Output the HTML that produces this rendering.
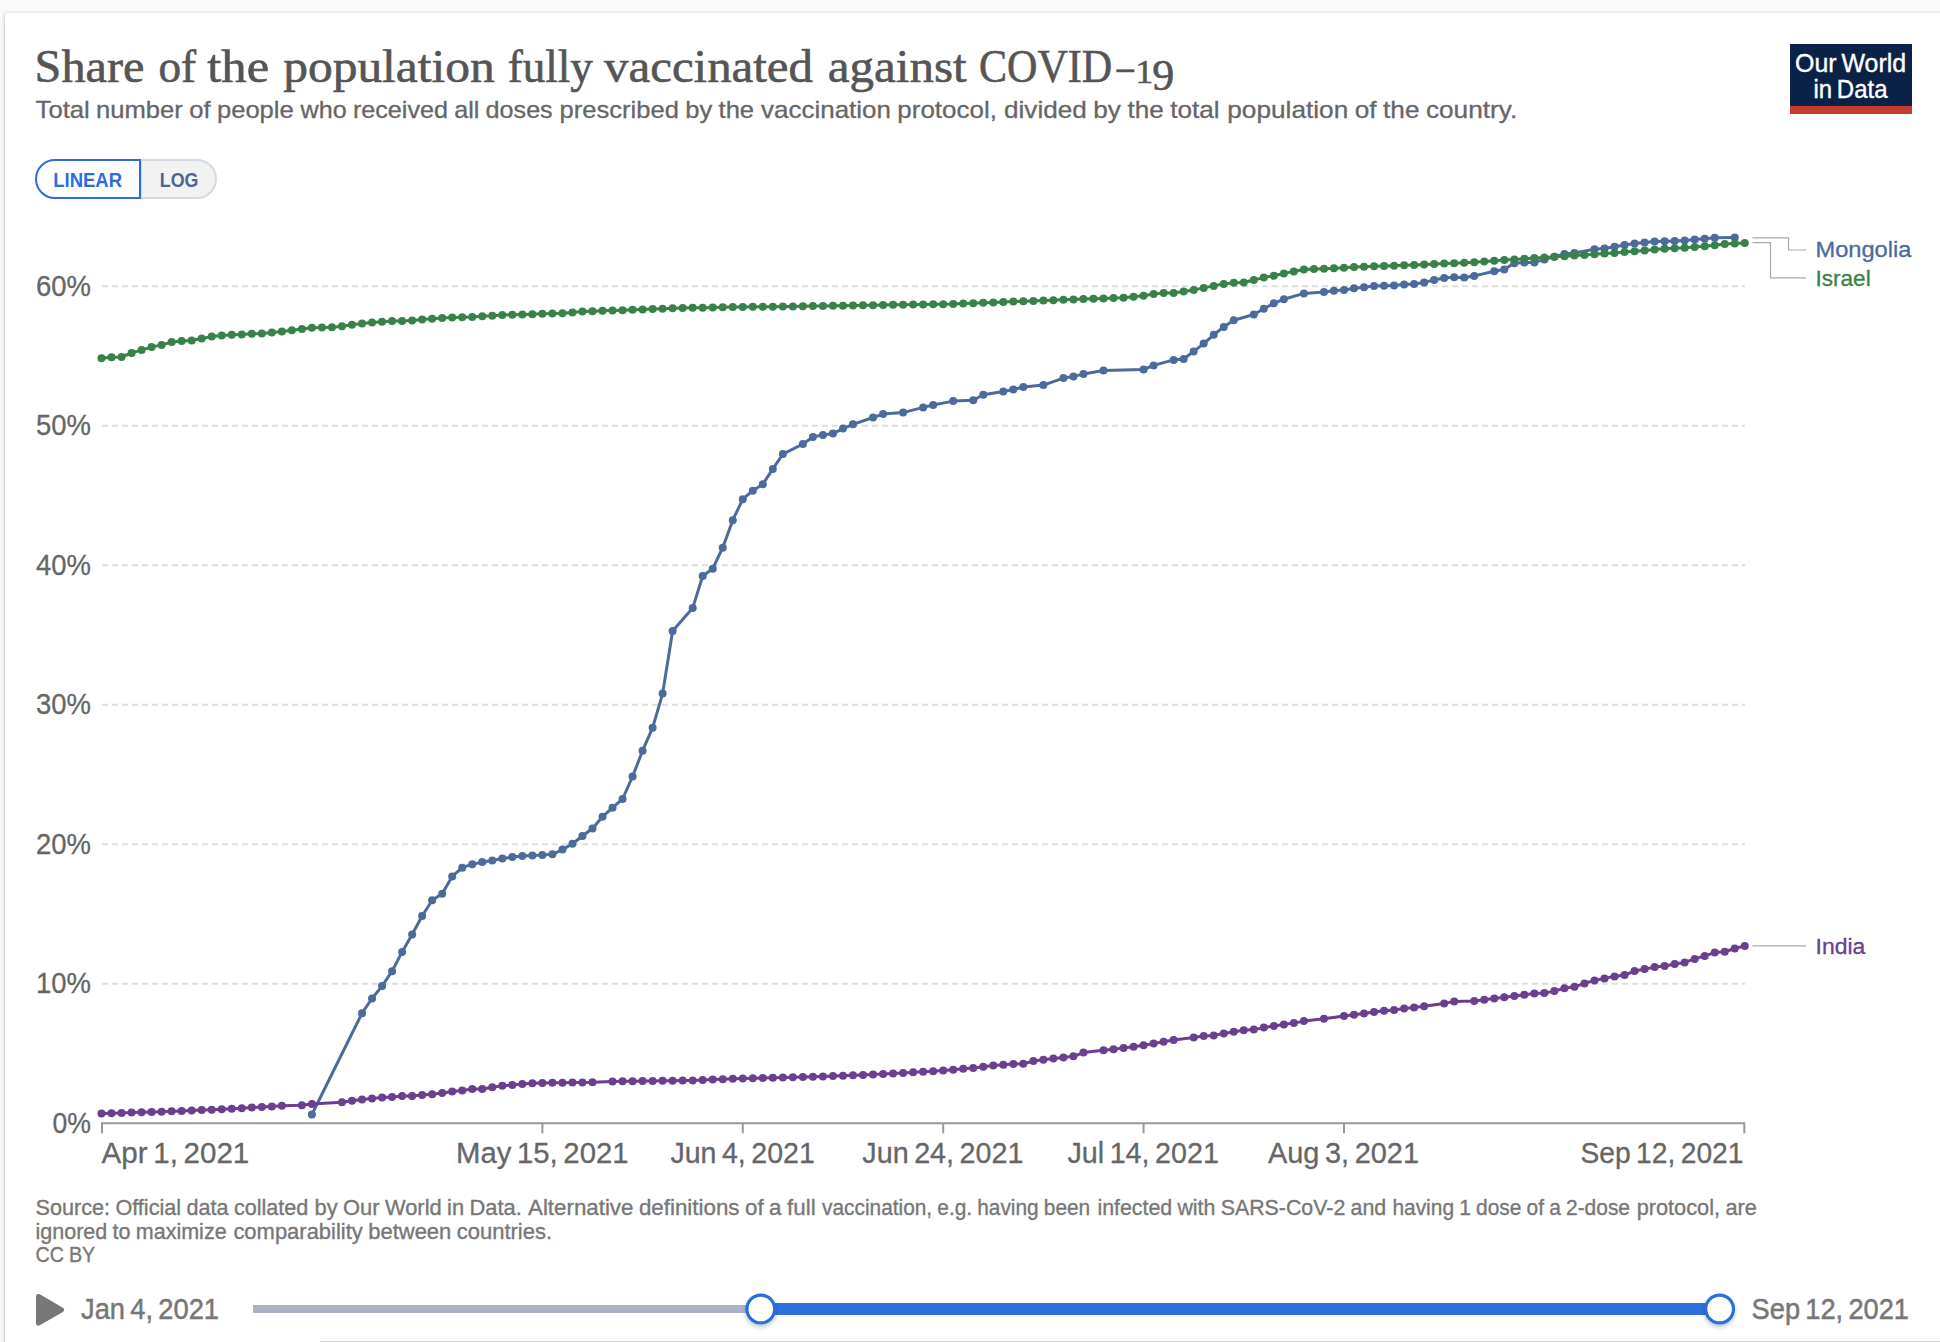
<!DOCTYPE html>
<html><head><meta charset="utf-8"><title>Share of the population fully vaccinated against COVID-19</title>
<style>
html,body{margin:0;padding:0;}
body{width:1940px;height:1342px;overflow:hidden;background:#fafafa;position:relative;font-family:"Liberation Sans",sans-serif;}
#card{position:absolute;left:5px;top:13px;width:1945px;height:1340px;background:#fff;border-radius:3px;box-shadow:0 1px 4px rgba(0,0,0,0.3);}
svg{position:absolute;left:0;top:0;}
</style></head><body>
<div id="card"></div>
<svg width="1940" height="1342" viewBox="0 0 1940 1342">
<line x1="102" x2="1745" y1="983.7" y2="983.7" stroke="#ddd" stroke-width="2" stroke-dasharray="6,4"/>
<line x1="102" x2="1745" y1="844.2" y2="844.2" stroke="#ddd" stroke-width="2" stroke-dasharray="6,4"/>
<line x1="102" x2="1745" y1="704.7" y2="704.7" stroke="#ddd" stroke-width="2" stroke-dasharray="6,4"/>
<line x1="102" x2="1745" y1="565.2" y2="565.2" stroke="#ddd" stroke-width="2" stroke-dasharray="6,4"/>
<line x1="102" x2="1745" y1="425.7" y2="425.7" stroke="#ddd" stroke-width="2" stroke-dasharray="6,4"/>
<line x1="102" x2="1745" y1="286.2" y2="286.2" stroke="#ddd" stroke-width="2" stroke-dasharray="6,4"/>
<text x="91" y="1132.6" text-anchor="end" font-size="29" fill="#666" stroke="#666" stroke-width="0.3" textLength="38.5" lengthAdjust="spacingAndGlyphs" font-family="Liberation Sans, sans-serif" style="word-spacing:-0.085em">0%</text>
<text x="91" y="993.1" text-anchor="end" font-size="29" fill="#666" stroke="#666" stroke-width="0.3" textLength="55" lengthAdjust="spacingAndGlyphs" font-family="Liberation Sans, sans-serif" style="word-spacing:-0.085em">10%</text>
<text x="91" y="853.6" text-anchor="end" font-size="29" fill="#666" stroke="#666" stroke-width="0.3" textLength="55" lengthAdjust="spacingAndGlyphs" font-family="Liberation Sans, sans-serif" style="word-spacing:-0.085em">20%</text>
<text x="91" y="714.1" text-anchor="end" font-size="29" fill="#666" stroke="#666" stroke-width="0.3" textLength="55" lengthAdjust="spacingAndGlyphs" font-family="Liberation Sans, sans-serif" style="word-spacing:-0.085em">30%</text>
<text x="91" y="574.6" text-anchor="end" font-size="29" fill="#666" stroke="#666" stroke-width="0.3" textLength="55" lengthAdjust="spacingAndGlyphs" font-family="Liberation Sans, sans-serif" style="word-spacing:-0.085em">40%</text>
<text x="91" y="435.1" text-anchor="end" font-size="29" fill="#666" stroke="#666" stroke-width="0.3" textLength="55" lengthAdjust="spacingAndGlyphs" font-family="Liberation Sans, sans-serif" style="word-spacing:-0.085em">50%</text>
<text x="91" y="295.6" text-anchor="end" font-size="29" fill="#666" stroke="#666" stroke-width="0.3" textLength="55" lengthAdjust="spacingAndGlyphs" font-family="Liberation Sans, sans-serif" style="word-spacing:-0.085em">60%</text>
<path d="M102,1133.3 V1123.3 H1744.3 V1133.3" fill="none" stroke="#999" stroke-width="2"/>
<line x1="542.38" x2="542.38" y1="1123.3" y2="1133.3" stroke="#999" stroke-width="2"/>
<line x1="742.78" x2="742.78" y1="1123.3" y2="1133.3" stroke="#999" stroke-width="2"/>
<line x1="943.18" x2="943.18" y1="1123.3" y2="1133.3" stroke="#999" stroke-width="2"/>
<line x1="1143.58" x2="1143.58" y1="1123.3" y2="1133.3" stroke="#999" stroke-width="2"/>
<line x1="1343.98" x2="1343.98" y1="1123.3" y2="1133.3" stroke="#999" stroke-width="2"/>
<text x="101.5" y="1162.5" text-anchor="start" font-size="29" fill="#666" stroke="#666" stroke-width="0.3" textLength="147.8" lengthAdjust="spacingAndGlyphs" font-family="Liberation Sans, sans-serif" style="word-spacing:-0.085em">Apr 1, 2021</text>
<text x="542.3" y="1162.5" text-anchor="middle" font-size="29" fill="#666" stroke="#666" stroke-width="0.3" textLength="172.4" lengthAdjust="spacingAndGlyphs" font-family="Liberation Sans, sans-serif" style="word-spacing:-0.085em">May 15, 2021</text>
<text x="742.6" y="1162.5" text-anchor="middle" font-size="29" fill="#666" stroke="#666" stroke-width="0.3" textLength="144.4" lengthAdjust="spacingAndGlyphs" font-family="Liberation Sans, sans-serif" style="word-spacing:-0.085em">Jun 4, 2021</text>
<text x="942.9" y="1162.5" text-anchor="middle" font-size="29" fill="#666" stroke="#666" stroke-width="0.3" textLength="161.1" lengthAdjust="spacingAndGlyphs" font-family="Liberation Sans, sans-serif" style="word-spacing:-0.085em">Jun 24, 2021</text>
<text x="1143.2" y="1162.5" text-anchor="middle" font-size="29" fill="#666" stroke="#666" stroke-width="0.3" textLength="151.6" lengthAdjust="spacingAndGlyphs" font-family="Liberation Sans, sans-serif" style="word-spacing:-0.085em">Jul 14, 2021</text>
<text x="1343.5" y="1162.5" text-anchor="middle" font-size="29" fill="#666" stroke="#666" stroke-width="0.3" textLength="151" lengthAdjust="spacingAndGlyphs" font-family="Liberation Sans, sans-serif" style="word-spacing:-0.085em">Aug 3, 2021</text>
<text x="1743.5" y="1162.5" text-anchor="end" font-size="29" fill="#666" stroke="#666" stroke-width="0.3" textLength="163.1" lengthAdjust="spacingAndGlyphs" font-family="Liberation Sans, sans-serif" style="word-spacing:-0.085em">Sep 12, 2021</text>
<g fill="#4c6a9c" stroke="none"><path d="M311.92,1114.5 L362.02,1013.2 L372.04,998.5 L382.06,986.1 L392.08,971.2 L402.1,951.9 L412.12,934.4 L422.14,916.0 L432.16,900.2 L442.18,893.7 L452.2,876.4 L462.22,867.7 L472.24,864.2 L482.26,862.1 L492.28,860.4 L502.3,858.6 L512.32,857.1 L522.34,856.0 L532.36,855.4 L542.38,854.9 L552.4,854.3 L562.42,849.6 L572.44,843.7 L582.46,836.0 L592.48,828.5 L602.5,816.8 L612.52,807.7 L622.54,799.0 L632.56,776.5 L642.58,750.7 L652.6,727.8 L662.62,693.6 L672.64,631.0 L692.68,608.1 L702.7,576.0 L712.72,568.7 L722.74,547.7 L732.76,520.2 L742.78,499.2 L752.8,490.7 L762.82,484.2 L772.84,468.9 L782.86,454.1 L802.9,444.0 L812.92,437.0 L822.94,434.9 L832.96,433.6 L842.98,428.6 L853.0,424.3 L873.04,417.5 L883.06,414.1 L903.1,412.6 L923.14,407.4 L933.16,405.0 L953.2,401.1 L973.24,400.2 L983.26,394.8 L1003.3,391.4 L1013.32,389.6 L1023.34,387.0 L1043.38,385.1 L1063.42,378.1 L1073.44,376.4 L1083.46,374.1 L1103.5,370.4 L1143.58,369.5 L1153.6,365.4 L1173.64,359.9 L1183.66,359.0 L1193.68,351.4 L1203.7,343.6 L1213.72,334.8 L1223.74,326.9 L1233.76,320.2 L1253.8,314.5 L1263.82,308.7 L1273.84,303.3 L1283.86,299.2 L1303.9,293.4 L1323.94,292.1 L1333.96,290.7 L1343.98,289.9 L1354.0,288.2 L1364.02,287.3 L1374.04,286.0 L1384.06,285.8 L1394.08,285.4 L1404.1,284.5 L1414.12,283.9 L1424.14,282.4 L1434.16,280.0 L1444.18,278.0 L1454.2,277.2 L1464.22,277.4 L1474.24,275.9 L1494.28,271.3 L1504.3,269.4 L1514.32,263.3 L1524.34,262.4 L1534.36,262.4 L1544.38,259.4 L1554.4,256.8 L1564.42,254.0 L1574.44,252.9 L1594.48,249.2 L1604.5,248.6 L1614.52,246.8 L1624.54,245.1 L1634.56,243.4 L1644.58,242.6 L1654.6,241.6 L1664.62,241.2 L1674.64,241.0 L1684.66,240.6 L1694.68,239.5 L1704.7,238.8 L1714.72,237.8 L1734.76,237.5" fill="none" stroke="#4c6a9c" stroke-width="3" stroke-linejoin="round"/><circle cx="311.92" cy="1114.5" r="4"/><circle cx="362.02" cy="1013.2" r="4"/><circle cx="372.04" cy="998.5" r="4"/><circle cx="382.06" cy="986.1" r="4"/><circle cx="392.08" cy="971.2" r="4"/><circle cx="402.1" cy="951.9" r="4"/><circle cx="412.12" cy="934.4" r="4"/><circle cx="422.14" cy="916.0" r="4"/><circle cx="432.16" cy="900.2" r="4"/><circle cx="442.18" cy="893.7" r="4"/><circle cx="452.2" cy="876.4" r="4"/><circle cx="462.22" cy="867.7" r="4"/><circle cx="472.24" cy="864.2" r="4"/><circle cx="482.26" cy="862.1" r="4"/><circle cx="492.28" cy="860.4" r="4"/><circle cx="502.3" cy="858.6" r="4"/><circle cx="512.32" cy="857.1" r="4"/><circle cx="522.34" cy="856.0" r="4"/><circle cx="532.36" cy="855.4" r="4"/><circle cx="542.38" cy="854.9" r="4"/><circle cx="552.4" cy="854.3" r="4"/><circle cx="562.42" cy="849.6" r="4"/><circle cx="572.44" cy="843.7" r="4"/><circle cx="582.46" cy="836.0" r="4"/><circle cx="592.48" cy="828.5" r="4"/><circle cx="602.5" cy="816.8" r="4"/><circle cx="612.52" cy="807.7" r="4"/><circle cx="622.54" cy="799.0" r="4"/><circle cx="632.56" cy="776.5" r="4"/><circle cx="642.58" cy="750.7" r="4"/><circle cx="652.6" cy="727.8" r="4"/><circle cx="662.62" cy="693.6" r="4"/><circle cx="672.64" cy="631.0" r="4"/><circle cx="692.68" cy="608.1" r="4"/><circle cx="702.7" cy="576.0" r="4"/><circle cx="712.72" cy="568.7" r="4"/><circle cx="722.74" cy="547.7" r="4"/><circle cx="732.76" cy="520.2" r="4"/><circle cx="742.78" cy="499.2" r="4"/><circle cx="752.8" cy="490.7" r="4"/><circle cx="762.82" cy="484.2" r="4"/><circle cx="772.84" cy="468.9" r="4"/><circle cx="782.86" cy="454.1" r="4"/><circle cx="802.9" cy="444.0" r="4"/><circle cx="812.92" cy="437.0" r="4"/><circle cx="822.94" cy="434.9" r="4"/><circle cx="832.96" cy="433.6" r="4"/><circle cx="842.98" cy="428.6" r="4"/><circle cx="853.0" cy="424.3" r="4"/><circle cx="873.04" cy="417.5" r="4"/><circle cx="883.06" cy="414.1" r="4"/><circle cx="903.1" cy="412.6" r="4"/><circle cx="923.14" cy="407.4" r="4"/><circle cx="933.16" cy="405.0" r="4"/><circle cx="953.2" cy="401.1" r="4"/><circle cx="973.24" cy="400.2" r="4"/><circle cx="983.26" cy="394.8" r="4"/><circle cx="1003.3" cy="391.4" r="4"/><circle cx="1013.32" cy="389.6" r="4"/><circle cx="1023.34" cy="387.0" r="4"/><circle cx="1043.38" cy="385.1" r="4"/><circle cx="1063.42" cy="378.1" r="4"/><circle cx="1073.44" cy="376.4" r="4"/><circle cx="1083.46" cy="374.1" r="4"/><circle cx="1103.5" cy="370.4" r="4"/><circle cx="1143.58" cy="369.5" r="4"/><circle cx="1153.6" cy="365.4" r="4"/><circle cx="1173.64" cy="359.9" r="4"/><circle cx="1183.66" cy="359.0" r="4"/><circle cx="1193.68" cy="351.4" r="4"/><circle cx="1203.7" cy="343.6" r="4"/><circle cx="1213.72" cy="334.8" r="4"/><circle cx="1223.74" cy="326.9" r="4"/><circle cx="1233.76" cy="320.2" r="4"/><circle cx="1253.8" cy="314.5" r="4"/><circle cx="1263.82" cy="308.7" r="4"/><circle cx="1273.84" cy="303.3" r="4"/><circle cx="1283.86" cy="299.2" r="4"/><circle cx="1303.9" cy="293.4" r="4"/><circle cx="1323.94" cy="292.1" r="4"/><circle cx="1333.96" cy="290.7" r="4"/><circle cx="1343.98" cy="289.9" r="4"/><circle cx="1354.0" cy="288.2" r="4"/><circle cx="1364.02" cy="287.3" r="4"/><circle cx="1374.04" cy="286.0" r="4"/><circle cx="1384.06" cy="285.8" r="4"/><circle cx="1394.08" cy="285.4" r="4"/><circle cx="1404.1" cy="284.5" r="4"/><circle cx="1414.12" cy="283.9" r="4"/><circle cx="1424.14" cy="282.4" r="4"/><circle cx="1434.16" cy="280.0" r="4"/><circle cx="1444.18" cy="278.0" r="4"/><circle cx="1454.2" cy="277.2" r="4"/><circle cx="1464.22" cy="277.4" r="4"/><circle cx="1474.24" cy="275.9" r="4"/><circle cx="1494.28" cy="271.3" r="4"/><circle cx="1504.3" cy="269.4" r="4"/><circle cx="1514.32" cy="263.3" r="4"/><circle cx="1524.34" cy="262.4" r="4"/><circle cx="1534.36" cy="262.4" r="4"/><circle cx="1544.38" cy="259.4" r="4"/><circle cx="1554.4" cy="256.8" r="4"/><circle cx="1564.42" cy="254.0" r="4"/><circle cx="1574.44" cy="252.9" r="4"/><circle cx="1594.48" cy="249.2" r="4"/><circle cx="1604.5" cy="248.6" r="4"/><circle cx="1614.52" cy="246.8" r="4"/><circle cx="1624.54" cy="245.1" r="4"/><circle cx="1634.56" cy="243.4" r="4"/><circle cx="1644.58" cy="242.6" r="4"/><circle cx="1654.6" cy="241.6" r="4"/><circle cx="1664.62" cy="241.2" r="4"/><circle cx="1674.64" cy="241.0" r="4"/><circle cx="1684.66" cy="240.6" r="4"/><circle cx="1694.68" cy="239.5" r="4"/><circle cx="1704.7" cy="238.8" r="4"/><circle cx="1714.72" cy="237.8" r="4"/><circle cx="1734.76" cy="237.5" r="4"/></g>
<g fill="#6a3f90" stroke="none"><path d="M101.5,1113.55 L111.52,1113.23 L121.54,1112.91 L131.56,1112.59 L141.58,1112.28 L151.6,1111.96 L161.62,1111.64 L171.64,1111.32 L181.66,1111.0 L191.68,1110.56 L201.7,1110.12 L211.72,1109.68 L221.74,1109.24 L231.76,1108.8 L241.78,1108.2 L251.8,1107.6 L261.82,1107.0 L271.84,1106.4 L281.86,1105.8 L301.9,1105.2 L311.92,1103.9 L341.98,1102.2 L352.0,1100.7 L362.02,1099.6 L372.04,1098.5 L382.06,1097.6 L392.08,1097.0 L402.1,1096.1 L412.12,1095.9 L422.14,1095.0 L432.16,1094.2 L442.18,1092.9 L452.2,1091.6 L462.22,1090.5 L472.24,1089.0 L482.26,1089.0 L492.28,1087.2 L502.3,1085.7 L512.32,1085.1 L522.34,1084.0 L532.36,1083.3 L542.38,1082.9 L552.4,1082.7 L562.42,1082.7 L572.44,1082.5 L582.46,1082.5 L592.48,1082.3 L612.52,1081.4 L622.54,1081.29 L632.56,1081.18 L642.58,1081.06 L652.6,1080.95 L662.62,1080.84 L672.64,1080.72 L682.66,1080.61 L692.68,1080.5 L702.7,1079.9 L712.72,1079.53 L722.74,1079.15 L732.76,1078.78 L742.78,1078.4 L752.8,1078.18 L762.82,1077.96 L772.84,1077.74 L782.86,1077.52 L792.88,1077.3 L802.9,1077.0 L812.92,1076.7 L822.94,1076.4 L832.96,1076.1 L842.98,1075.8 L853.0,1075.36 L863.02,1074.92 L873.04,1074.48 L883.06,1074.04 L893.08,1073.6 L903.1,1072.95 L913.12,1072.3 L923.14,1071.75 L933.16,1071.2 L943.18,1070.45 L953.2,1069.7 L963.22,1068.85 L973.24,1068.0 L983.26,1066.8 L993.28,1065.6 L1003.3,1064.85 L1013.32,1064.1 L1023.34,1063.7 L1033.36,1061.1 L1043.38,1059.8 L1053.4,1058.5 L1063.42,1057.4 L1073.44,1056.3 L1083.46,1052.6 L1103.5,1050.2 L1113.52,1049.3 L1123.54,1048.0 L1133.56,1046.7 L1143.58,1045.2 L1153.6,1043.4 L1163.62,1041.7 L1173.64,1040.0 L1193.68,1037.6 L1203.7,1036.1 L1213.72,1035.4 L1223.74,1033.5 L1233.76,1031.8 L1243.78,1030.2 L1253.8,1029.6 L1263.82,1027.6 L1273.84,1025.9 L1283.86,1024.6 L1293.88,1023.1 L1303.9,1021.1 L1323.94,1018.8 L1343.98,1016.0 L1354.0,1014.7 L1364.02,1013.4 L1374.04,1012.1 L1384.06,1010.8 L1394.08,1010.1 L1404.1,1008.4 L1414.12,1007.5 L1424.14,1006.2 L1444.18,1003.6 L1454.2,1001.4 L1474.24,1001.0 L1484.26,999.7 L1494.28,998.6 L1504.3,997.3 L1514.32,995.9 L1524.34,994.8 L1534.36,993.5 L1544.38,993.1 L1554.4,991.1 L1564.42,988.3 L1574.44,986.8 L1584.46,983.4 L1594.48,980.5 L1604.5,978.4 L1614.52,976.4 L1624.54,975.1 L1634.56,971.0 L1644.58,969.1 L1654.6,967.1 L1664.62,966.0 L1674.64,964.1 L1684.66,962.4 L1694.68,958.9 L1704.7,955.9 L1714.72,952.6 L1724.74,951.7 L1734.76,948.5 L1744.78,945.9" fill="none" stroke="#6a3f90" stroke-width="3" stroke-linejoin="round"/><circle cx="101.5" cy="1113.55" r="4"/><circle cx="111.52" cy="1113.23" r="4"/><circle cx="121.54" cy="1112.91" r="4"/><circle cx="131.56" cy="1112.59" r="4"/><circle cx="141.58" cy="1112.28" r="4"/><circle cx="151.6" cy="1111.96" r="4"/><circle cx="161.62" cy="1111.64" r="4"/><circle cx="171.64" cy="1111.32" r="4"/><circle cx="181.66" cy="1111.0" r="4"/><circle cx="191.68" cy="1110.56" r="4"/><circle cx="201.7" cy="1110.12" r="4"/><circle cx="211.72" cy="1109.68" r="4"/><circle cx="221.74" cy="1109.24" r="4"/><circle cx="231.76" cy="1108.8" r="4"/><circle cx="241.78" cy="1108.2" r="4"/><circle cx="251.8" cy="1107.6" r="4"/><circle cx="261.82" cy="1107.0" r="4"/><circle cx="271.84" cy="1106.4" r="4"/><circle cx="281.86" cy="1105.8" r="4"/><circle cx="301.9" cy="1105.2" r="4"/><circle cx="311.92" cy="1103.9" r="4"/><circle cx="341.98" cy="1102.2" r="4"/><circle cx="352.0" cy="1100.7" r="4"/><circle cx="362.02" cy="1099.6" r="4"/><circle cx="372.04" cy="1098.5" r="4"/><circle cx="382.06" cy="1097.6" r="4"/><circle cx="392.08" cy="1097.0" r="4"/><circle cx="402.1" cy="1096.1" r="4"/><circle cx="412.12" cy="1095.9" r="4"/><circle cx="422.14" cy="1095.0" r="4"/><circle cx="432.16" cy="1094.2" r="4"/><circle cx="442.18" cy="1092.9" r="4"/><circle cx="452.2" cy="1091.6" r="4"/><circle cx="462.22" cy="1090.5" r="4"/><circle cx="472.24" cy="1089.0" r="4"/><circle cx="482.26" cy="1089.0" r="4"/><circle cx="492.28" cy="1087.2" r="4"/><circle cx="502.3" cy="1085.7" r="4"/><circle cx="512.32" cy="1085.1" r="4"/><circle cx="522.34" cy="1084.0" r="4"/><circle cx="532.36" cy="1083.3" r="4"/><circle cx="542.38" cy="1082.9" r="4"/><circle cx="552.4" cy="1082.7" r="4"/><circle cx="562.42" cy="1082.7" r="4"/><circle cx="572.44" cy="1082.5" r="4"/><circle cx="582.46" cy="1082.5" r="4"/><circle cx="592.48" cy="1082.3" r="4"/><circle cx="612.52" cy="1081.4" r="4"/><circle cx="622.54" cy="1081.29" r="4"/><circle cx="632.56" cy="1081.18" r="4"/><circle cx="642.58" cy="1081.06" r="4"/><circle cx="652.6" cy="1080.95" r="4"/><circle cx="662.62" cy="1080.84" r="4"/><circle cx="672.64" cy="1080.72" r="4"/><circle cx="682.66" cy="1080.61" r="4"/><circle cx="692.68" cy="1080.5" r="4"/><circle cx="702.7" cy="1079.9" r="4"/><circle cx="712.72" cy="1079.53" r="4"/><circle cx="722.74" cy="1079.15" r="4"/><circle cx="732.76" cy="1078.78" r="4"/><circle cx="742.78" cy="1078.4" r="4"/><circle cx="752.8" cy="1078.18" r="4"/><circle cx="762.82" cy="1077.96" r="4"/><circle cx="772.84" cy="1077.74" r="4"/><circle cx="782.86" cy="1077.52" r="4"/><circle cx="792.88" cy="1077.3" r="4"/><circle cx="802.9" cy="1077.0" r="4"/><circle cx="812.92" cy="1076.7" r="4"/><circle cx="822.94" cy="1076.4" r="4"/><circle cx="832.96" cy="1076.1" r="4"/><circle cx="842.98" cy="1075.8" r="4"/><circle cx="853.0" cy="1075.36" r="4"/><circle cx="863.02" cy="1074.92" r="4"/><circle cx="873.04" cy="1074.48" r="4"/><circle cx="883.06" cy="1074.04" r="4"/><circle cx="893.08" cy="1073.6" r="4"/><circle cx="903.1" cy="1072.95" r="4"/><circle cx="913.12" cy="1072.3" r="4"/><circle cx="923.14" cy="1071.75" r="4"/><circle cx="933.16" cy="1071.2" r="4"/><circle cx="943.18" cy="1070.45" r="4"/><circle cx="953.2" cy="1069.7" r="4"/><circle cx="963.22" cy="1068.85" r="4"/><circle cx="973.24" cy="1068.0" r="4"/><circle cx="983.26" cy="1066.8" r="4"/><circle cx="993.28" cy="1065.6" r="4"/><circle cx="1003.3" cy="1064.85" r="4"/><circle cx="1013.32" cy="1064.1" r="4"/><circle cx="1023.34" cy="1063.7" r="4"/><circle cx="1033.36" cy="1061.1" r="4"/><circle cx="1043.38" cy="1059.8" r="4"/><circle cx="1053.4" cy="1058.5" r="4"/><circle cx="1063.42" cy="1057.4" r="4"/><circle cx="1073.44" cy="1056.3" r="4"/><circle cx="1083.46" cy="1052.6" r="4"/><circle cx="1103.5" cy="1050.2" r="4"/><circle cx="1113.52" cy="1049.3" r="4"/><circle cx="1123.54" cy="1048.0" r="4"/><circle cx="1133.56" cy="1046.7" r="4"/><circle cx="1143.58" cy="1045.2" r="4"/><circle cx="1153.6" cy="1043.4" r="4"/><circle cx="1163.62" cy="1041.7" r="4"/><circle cx="1173.64" cy="1040.0" r="4"/><circle cx="1193.68" cy="1037.6" r="4"/><circle cx="1203.7" cy="1036.1" r="4"/><circle cx="1213.72" cy="1035.4" r="4"/><circle cx="1223.74" cy="1033.5" r="4"/><circle cx="1233.76" cy="1031.8" r="4"/><circle cx="1243.78" cy="1030.2" r="4"/><circle cx="1253.8" cy="1029.6" r="4"/><circle cx="1263.82" cy="1027.6" r="4"/><circle cx="1273.84" cy="1025.9" r="4"/><circle cx="1283.86" cy="1024.6" r="4"/><circle cx="1293.88" cy="1023.1" r="4"/><circle cx="1303.9" cy="1021.1" r="4"/><circle cx="1323.94" cy="1018.8" r="4"/><circle cx="1343.98" cy="1016.0" r="4"/><circle cx="1354.0" cy="1014.7" r="4"/><circle cx="1364.02" cy="1013.4" r="4"/><circle cx="1374.04" cy="1012.1" r="4"/><circle cx="1384.06" cy="1010.8" r="4"/><circle cx="1394.08" cy="1010.1" r="4"/><circle cx="1404.1" cy="1008.4" r="4"/><circle cx="1414.12" cy="1007.5" r="4"/><circle cx="1424.14" cy="1006.2" r="4"/><circle cx="1444.18" cy="1003.6" r="4"/><circle cx="1454.2" cy="1001.4" r="4"/><circle cx="1474.24" cy="1001.0" r="4"/><circle cx="1484.26" cy="999.7" r="4"/><circle cx="1494.28" cy="998.6" r="4"/><circle cx="1504.3" cy="997.3" r="4"/><circle cx="1514.32" cy="995.9" r="4"/><circle cx="1524.34" cy="994.8" r="4"/><circle cx="1534.36" cy="993.5" r="4"/><circle cx="1544.38" cy="993.1" r="4"/><circle cx="1554.4" cy="991.1" r="4"/><circle cx="1564.42" cy="988.3" r="4"/><circle cx="1574.44" cy="986.8" r="4"/><circle cx="1584.46" cy="983.4" r="4"/><circle cx="1594.48" cy="980.5" r="4"/><circle cx="1604.5" cy="978.4" r="4"/><circle cx="1614.52" cy="976.4" r="4"/><circle cx="1624.54" cy="975.1" r="4"/><circle cx="1634.56" cy="971.0" r="4"/><circle cx="1644.58" cy="969.1" r="4"/><circle cx="1654.6" cy="967.1" r="4"/><circle cx="1664.62" cy="966.0" r="4"/><circle cx="1674.64" cy="964.1" r="4"/><circle cx="1684.66" cy="962.4" r="4"/><circle cx="1694.68" cy="958.9" r="4"/><circle cx="1704.7" cy="955.9" r="4"/><circle cx="1714.72" cy="952.6" r="4"/><circle cx="1724.74" cy="951.7" r="4"/><circle cx="1734.76" cy="948.5" r="4"/><circle cx="1744.78" cy="945.9" r="4"/></g>
<g fill="#38814b" stroke="none"><path d="M101.5,358.3 L111.52,357.2 L121.54,357.0 L131.56,352.9 L141.58,350.1 L151.6,347.1 L161.62,344.9 L171.64,342.1 L181.66,341.0 L191.68,340.4 L201.7,338.6 L211.72,336.5 L221.74,335.4 L231.76,334.7 L241.78,334.5 L251.8,333.7 L261.82,333.4 L271.84,332.6 L281.86,331.5 L291.88,330.2 L301.9,328.9 L311.92,327.8 L321.94,327.4 L331.96,327.2 L341.98,326.3 L352.0,324.8 L362.02,323.5 L372.04,322.4 L382.06,321.7 L392.08,321.1 L402.1,320.9 L412.12,320.4 L422.14,319.6 L432.16,318.7 L442.18,318.1 L452.2,317.4 L462.22,317.2 L472.24,317.0 L482.26,316.3 L492.28,315.7 L502.3,315.0 L512.32,314.72 L522.34,314.43 L532.36,314.15 L542.38,313.87 L552.4,313.58 L562.42,313.3 L572.44,312.45 L582.46,311.6 L592.48,311.23 L602.5,310.87 L612.52,310.5 L622.54,310.13 L632.56,309.77 L642.58,309.4 L652.6,309.03 L662.62,308.67 L672.64,308.3 L682.66,308.08 L692.68,307.86 L702.7,307.64 L712.72,307.42 L722.74,307.2 L732.76,307.09 L742.78,306.97 L752.8,306.86 L762.82,306.74 L772.84,306.63 L782.86,306.51 L792.88,306.4 L802.9,306.25 L812.92,306.09 L822.94,305.94 L832.96,305.78 L842.98,305.63 L853.0,305.47 L863.02,305.32 L873.04,305.16 L883.06,305.01 L893.08,304.85 L903.1,304.7 L913.12,304.56 L923.14,304.42 L933.16,304.28 L943.18,304.14 L953.2,304.0 L963.22,303.6 L973.24,303.2 L983.26,302.8 L993.28,302.4 L1003.3,302.0 L1013.32,301.6 L1023.34,301.25 L1033.36,300.9 L1043.38,300.55 L1053.4,300.2 L1063.42,299.85 L1073.44,299.5 L1083.46,299.0 L1093.48,298.75 L1103.5,298.5 L1113.52,298.1 L1123.54,297.7 L1133.56,296.7 L1143.58,295.7 L1153.6,294.1 L1163.62,293.1 L1173.64,293.0 L1183.66,291.5 L1193.68,289.9 L1203.7,287.9 L1213.72,285.9 L1223.74,283.9 L1233.76,282.7 L1243.78,282.5 L1253.8,280.0 L1263.82,277.6 L1273.84,275.7 L1283.86,273.5 L1293.88,271.4 L1303.9,269.6 L1313.92,269.1 L1323.94,268.7 L1333.96,268.3 L1343.98,267.65 L1354.0,267.0 L1364.02,266.67 L1374.04,266.33 L1384.06,266.0 L1394.08,265.67 L1404.1,265.33 L1414.12,265.0 L1424.14,264.53 L1434.16,264.07 L1444.18,263.6 L1454.2,263.13 L1464.22,262.67 L1474.24,262.2 L1484.26,261.5 L1494.28,260.8 L1504.3,260.1 L1514.32,259.4 L1524.34,258.76 L1534.36,258.12 L1544.38,257.48 L1554.4,256.84 L1564.42,256.2 L1574.44,255.54 L1584.46,254.88 L1594.48,254.22 L1604.5,253.56 L1614.52,252.9 L1624.54,252.1 L1634.56,251.3 L1644.58,250.5 L1654.6,249.4 L1664.62,248.82 L1674.64,248.25 L1684.66,247.68 L1694.68,247.1 L1704.7,246.2 L1714.72,245.3 L1724.74,244.0 L1734.76,243.4 L1744.78,242.9" fill="none" stroke="#38814b" stroke-width="3" stroke-linejoin="round"/><circle cx="101.5" cy="358.3" r="4"/><circle cx="111.52" cy="357.2" r="4"/><circle cx="121.54" cy="357.0" r="4"/><circle cx="131.56" cy="352.9" r="4"/><circle cx="141.58" cy="350.1" r="4"/><circle cx="151.6" cy="347.1" r="4"/><circle cx="161.62" cy="344.9" r="4"/><circle cx="171.64" cy="342.1" r="4"/><circle cx="181.66" cy="341.0" r="4"/><circle cx="191.68" cy="340.4" r="4"/><circle cx="201.7" cy="338.6" r="4"/><circle cx="211.72" cy="336.5" r="4"/><circle cx="221.74" cy="335.4" r="4"/><circle cx="231.76" cy="334.7" r="4"/><circle cx="241.78" cy="334.5" r="4"/><circle cx="251.8" cy="333.7" r="4"/><circle cx="261.82" cy="333.4" r="4"/><circle cx="271.84" cy="332.6" r="4"/><circle cx="281.86" cy="331.5" r="4"/><circle cx="291.88" cy="330.2" r="4"/><circle cx="301.9" cy="328.9" r="4"/><circle cx="311.92" cy="327.8" r="4"/><circle cx="321.94" cy="327.4" r="4"/><circle cx="331.96" cy="327.2" r="4"/><circle cx="341.98" cy="326.3" r="4"/><circle cx="352.0" cy="324.8" r="4"/><circle cx="362.02" cy="323.5" r="4"/><circle cx="372.04" cy="322.4" r="4"/><circle cx="382.06" cy="321.7" r="4"/><circle cx="392.08" cy="321.1" r="4"/><circle cx="402.1" cy="320.9" r="4"/><circle cx="412.12" cy="320.4" r="4"/><circle cx="422.14" cy="319.6" r="4"/><circle cx="432.16" cy="318.7" r="4"/><circle cx="442.18" cy="318.1" r="4"/><circle cx="452.2" cy="317.4" r="4"/><circle cx="462.22" cy="317.2" r="4"/><circle cx="472.24" cy="317.0" r="4"/><circle cx="482.26" cy="316.3" r="4"/><circle cx="492.28" cy="315.7" r="4"/><circle cx="502.3" cy="315.0" r="4"/><circle cx="512.32" cy="314.72" r="4"/><circle cx="522.34" cy="314.43" r="4"/><circle cx="532.36" cy="314.15" r="4"/><circle cx="542.38" cy="313.87" r="4"/><circle cx="552.4" cy="313.58" r="4"/><circle cx="562.42" cy="313.3" r="4"/><circle cx="572.44" cy="312.45" r="4"/><circle cx="582.46" cy="311.6" r="4"/><circle cx="592.48" cy="311.23" r="4"/><circle cx="602.5" cy="310.87" r="4"/><circle cx="612.52" cy="310.5" r="4"/><circle cx="622.54" cy="310.13" r="4"/><circle cx="632.56" cy="309.77" r="4"/><circle cx="642.58" cy="309.4" r="4"/><circle cx="652.6" cy="309.03" r="4"/><circle cx="662.62" cy="308.67" r="4"/><circle cx="672.64" cy="308.3" r="4"/><circle cx="682.66" cy="308.08" r="4"/><circle cx="692.68" cy="307.86" r="4"/><circle cx="702.7" cy="307.64" r="4"/><circle cx="712.72" cy="307.42" r="4"/><circle cx="722.74" cy="307.2" r="4"/><circle cx="732.76" cy="307.09" r="4"/><circle cx="742.78" cy="306.97" r="4"/><circle cx="752.8" cy="306.86" r="4"/><circle cx="762.82" cy="306.74" r="4"/><circle cx="772.84" cy="306.63" r="4"/><circle cx="782.86" cy="306.51" r="4"/><circle cx="792.88" cy="306.4" r="4"/><circle cx="802.9" cy="306.25" r="4"/><circle cx="812.92" cy="306.09" r="4"/><circle cx="822.94" cy="305.94" r="4"/><circle cx="832.96" cy="305.78" r="4"/><circle cx="842.98" cy="305.63" r="4"/><circle cx="853.0" cy="305.47" r="4"/><circle cx="863.02" cy="305.32" r="4"/><circle cx="873.04" cy="305.16" r="4"/><circle cx="883.06" cy="305.01" r="4"/><circle cx="893.08" cy="304.85" r="4"/><circle cx="903.1" cy="304.7" r="4"/><circle cx="913.12" cy="304.56" r="4"/><circle cx="923.14" cy="304.42" r="4"/><circle cx="933.16" cy="304.28" r="4"/><circle cx="943.18" cy="304.14" r="4"/><circle cx="953.2" cy="304.0" r="4"/><circle cx="963.22" cy="303.6" r="4"/><circle cx="973.24" cy="303.2" r="4"/><circle cx="983.26" cy="302.8" r="4"/><circle cx="993.28" cy="302.4" r="4"/><circle cx="1003.3" cy="302.0" r="4"/><circle cx="1013.32" cy="301.6" r="4"/><circle cx="1023.34" cy="301.25" r="4"/><circle cx="1033.36" cy="300.9" r="4"/><circle cx="1043.38" cy="300.55" r="4"/><circle cx="1053.4" cy="300.2" r="4"/><circle cx="1063.42" cy="299.85" r="4"/><circle cx="1073.44" cy="299.5" r="4"/><circle cx="1083.46" cy="299.0" r="4"/><circle cx="1093.48" cy="298.75" r="4"/><circle cx="1103.5" cy="298.5" r="4"/><circle cx="1113.52" cy="298.1" r="4"/><circle cx="1123.54" cy="297.7" r="4"/><circle cx="1133.56" cy="296.7" r="4"/><circle cx="1143.58" cy="295.7" r="4"/><circle cx="1153.6" cy="294.1" r="4"/><circle cx="1163.62" cy="293.1" r="4"/><circle cx="1173.64" cy="293.0" r="4"/><circle cx="1183.66" cy="291.5" r="4"/><circle cx="1193.68" cy="289.9" r="4"/><circle cx="1203.7" cy="287.9" r="4"/><circle cx="1213.72" cy="285.9" r="4"/><circle cx="1223.74" cy="283.9" r="4"/><circle cx="1233.76" cy="282.7" r="4"/><circle cx="1243.78" cy="282.5" r="4"/><circle cx="1253.8" cy="280.0" r="4"/><circle cx="1263.82" cy="277.6" r="4"/><circle cx="1273.84" cy="275.7" r="4"/><circle cx="1283.86" cy="273.5" r="4"/><circle cx="1293.88" cy="271.4" r="4"/><circle cx="1303.9" cy="269.6" r="4"/><circle cx="1313.92" cy="269.1" r="4"/><circle cx="1323.94" cy="268.7" r="4"/><circle cx="1333.96" cy="268.3" r="4"/><circle cx="1343.98" cy="267.65" r="4"/><circle cx="1354.0" cy="267.0" r="4"/><circle cx="1364.02" cy="266.67" r="4"/><circle cx="1374.04" cy="266.33" r="4"/><circle cx="1384.06" cy="266.0" r="4"/><circle cx="1394.08" cy="265.67" r="4"/><circle cx="1404.1" cy="265.33" r="4"/><circle cx="1414.12" cy="265.0" r="4"/><circle cx="1424.14" cy="264.53" r="4"/><circle cx="1434.16" cy="264.07" r="4"/><circle cx="1444.18" cy="263.6" r="4"/><circle cx="1454.2" cy="263.13" r="4"/><circle cx="1464.22" cy="262.67" r="4"/><circle cx="1474.24" cy="262.2" r="4"/><circle cx="1484.26" cy="261.5" r="4"/><circle cx="1494.28" cy="260.8" r="4"/><circle cx="1504.3" cy="260.1" r="4"/><circle cx="1514.32" cy="259.4" r="4"/><circle cx="1524.34" cy="258.76" r="4"/><circle cx="1534.36" cy="258.12" r="4"/><circle cx="1544.38" cy="257.48" r="4"/><circle cx="1554.4" cy="256.84" r="4"/><circle cx="1564.42" cy="256.2" r="4"/><circle cx="1574.44" cy="255.54" r="4"/><circle cx="1584.46" cy="254.88" r="4"/><circle cx="1594.48" cy="254.22" r="4"/><circle cx="1604.5" cy="253.56" r="4"/><circle cx="1614.52" cy="252.9" r="4"/><circle cx="1624.54" cy="252.1" r="4"/><circle cx="1634.56" cy="251.3" r="4"/><circle cx="1644.58" cy="250.5" r="4"/><circle cx="1654.6" cy="249.4" r="4"/><circle cx="1664.62" cy="248.82" r="4"/><circle cx="1674.64" cy="248.25" r="4"/><circle cx="1684.66" cy="247.68" r="4"/><circle cx="1694.68" cy="247.1" r="4"/><circle cx="1704.7" cy="246.2" r="4"/><circle cx="1714.72" cy="245.3" r="4"/><circle cx="1724.74" cy="244.0" r="4"/><circle cx="1734.76" cy="243.4" r="4"/><circle cx="1744.78" cy="242.9" r="4"/></g>
<path d="M1752.5,237.8 H1788.5 V250 H1806" fill="none" stroke="#aaa" stroke-width="1.2"/>
<path d="M1752.5,242.6 H1770.5 V277.8 H1806" fill="none" stroke="#aaa" stroke-width="1.2"/>
<path d="M1752.5,945.9 H1806" fill="none" stroke="#aaa" stroke-width="1.2"/>
<text x="1815.5" y="257.2" font-size="22.4" fill="#4c6a9c" stroke="#4c6a9c" stroke-width="0.3" textLength="95.9" lengthAdjust="spacingAndGlyphs" font-family="Liberation Sans, sans-serif" style="word-spacing:-0.085em">Mongolia</text>
<text x="1815.5" y="285.5" font-size="22.4" fill="#38814b" stroke="#38814b" stroke-width="0.3" textLength="55.2" lengthAdjust="spacingAndGlyphs" font-family="Liberation Sans, sans-serif" style="word-spacing:-0.085em">Israel</text>
<text x="1815.5" y="953.5" font-size="22.4" fill="#6a3f90" stroke="#6a3f90" stroke-width="0.3" textLength="49.8" lengthAdjust="spacingAndGlyphs" font-family="Liberation Sans, sans-serif" style="word-spacing:-0.085em">India</text>
<text font-size="46" fill="#555" font-family="Liberation Serif, serif" style="word-spacing:0" stroke="#555" stroke-width="0.6"><tspan x="34.6" y="82.2" textLength="109.8" lengthAdjust="spacingAndGlyphs">Share</tspan> <tspan x="158.5" y="82.2" textLength="37.7" lengthAdjust="spacingAndGlyphs">of</tspan> <tspan x="207.3" y="82.2" textLength="61.9" lengthAdjust="spacingAndGlyphs">the</tspan> <tspan x="283.2" y="82.2" textLength="211.6" lengthAdjust="spacingAndGlyphs">population</tspan> <tspan x="507.8" y="82.2" textLength="85.0" lengthAdjust="spacingAndGlyphs">fully</tspan> <tspan x="604.1" y="82.2" textLength="208.9" lengthAdjust="spacingAndGlyphs">vaccinated</tspan> <tspan x="827.8" y="82.2" textLength="138.8" lengthAdjust="spacingAndGlyphs">against</tspan> <tspan x="979" y="82.2" textLength="133.2" lengthAdjust="spacingAndGlyphs">COVID</tspan><tspan x="1114.4" y="77.9" font-size="30" stroke-width="0.5" textLength="21.7" lengthAdjust="spacingAndGlyphs">-</tspan><tspan x="1135.4" y="82.6" font-size="33.5" textLength="17.7" lengthAdjust="spacingAndGlyphs">1</tspan><tspan x="1152.2" y="89.6" font-size="44" textLength="22" lengthAdjust="spacingAndGlyphs">9</tspan></text>
<text font-size="23.6" fill="#666" font-family="Liberation Sans, sans-serif" style="word-spacing:-0.03em" stroke="#666" stroke-width="0.3"><tspan x="35.6" y="117.5" textLength="258.2" lengthAdjust="spacingAndGlyphs">Total number of people</tspan> <tspan x="300.6" y="117.5" textLength="252.1" lengthAdjust="spacingAndGlyphs">who received all doses</tspan> <tspan x="559.5" y="117.5" textLength="194.6" lengthAdjust="spacingAndGlyphs">prescribed by the</tspan> <tspan x="761.1" y="117.5" textLength="235.8" lengthAdjust="spacingAndGlyphs">vaccination protocol,</tspan> <tspan x="1004" y="117.5" textLength="215.6" lengthAdjust="spacingAndGlyphs">divided by the total</tspan> <tspan x="1227.3" y="117.5" textLength="289.9" lengthAdjust="spacingAndGlyphs">population of the country.</tspan></text>
<rect x="1790" y="44" width="122" height="70" fill="#0a2148"/><rect x="1790" y="106" width="122" height="8" fill="#c53b2f"/>
<text x="1850.6" y="72" text-anchor="middle" font-size="26" fill="#fff" stroke="#fff" stroke-width="0.4" textLength="111" lengthAdjust="spacingAndGlyphs" font-family="Liberation Sans, sans-serif" style="word-spacing:-0.085em">Our World</text>
<text x="1850.5" y="98.3" text-anchor="middle" font-size="26" fill="#fff" stroke="#fff" stroke-width="0.4" textLength="74" lengthAdjust="spacingAndGlyphs" font-family="Liberation Sans, sans-serif" style="word-spacing:-0.085em">in Data</text>
<path d="M141,160 H217 M141,198 H197" fill="none"/>
<path d="M141,160 H197 A19,19 0 0 1 197,198 H141 Z" fill="#f2f2f2" stroke="#d5d9e0" stroke-width="2"/>
<path d="M140,160 H55 A19,19 0 0 0 55,198 H140 Z" fill="#fff" stroke="#2d6cdf" stroke-width="2"/>
<text x="53.2" y="187" font-size="20.7" font-weight="bold" fill="#2d6cdf" textLength="68.9" lengthAdjust="spacingAndGlyphs" font-family="Liberation Sans, sans-serif" style="word-spacing:-0.085em">LINEAR</text>
<text x="159.8" y="187" font-size="20.7" font-weight="bold" fill="#4e6591" textLength="38.6" lengthAdjust="spacingAndGlyphs" font-family="Liberation Sans, sans-serif" style="word-spacing:-0.085em">LOG</text>
<text font-size="22" fill="#777" font-family="Liberation Sans, sans-serif" style="word-spacing:-0.03em" stroke="#777" stroke-width="0.35"><tspan x="35.6" y="1215" textLength="272.8" lengthAdjust="spacingAndGlyphs">Source: Official data collated</tspan> <tspan x="314.6" y="1215" textLength="207.2" lengthAdjust="spacingAndGlyphs">by Our World in Data.</tspan> <tspan x="528" y="1215" textLength="287.6" lengthAdjust="spacingAndGlyphs">Alternative definitions of a full</tspan> <tspan x="822.1" y="1215" textLength="268.1" lengthAdjust="spacingAndGlyphs">vaccination, e.g. having been</tspan> <tspan x="1097.4" y="1215" textLength="288.8" lengthAdjust="spacingAndGlyphs">infected with SARS-CoV-2 and</tspan> <tspan x="1392.4" y="1215" textLength="237.6" lengthAdjust="spacingAndGlyphs">having 1 dose of a 2-dose</tspan> <tspan x="1636.7" y="1215" textLength="120.1" lengthAdjust="spacingAndGlyphs">protocol, are</tspan></text>
<text font-size="22" fill="#777" font-family="Liberation Sans, sans-serif" style="word-spacing:-0.03em" stroke="#777" stroke-width="0.35"><tspan x="35.5" y="1238.6" textLength="191.1" lengthAdjust="spacingAndGlyphs">ignored to maximize</tspan> <tspan x="233.4" y="1238.6" textLength="318.6" lengthAdjust="spacingAndGlyphs">comparability between countries.</tspan></text>
<text font-size="22" fill="#777" font-family="Liberation Sans, sans-serif" style="word-spacing:-0.03em" stroke="#777" stroke-width="0.35"><tspan x="35.5" y="1262.3" textLength="59.7" lengthAdjust="spacingAndGlyphs">CC BY</tspan></text>
<path d="M38.5,1296.5 L61.6,1309.85 L38.5,1323.2 Z" fill="#777" stroke="#777" stroke-width="5" stroke-linejoin="round"/>
<text x="81" y="1318.7" font-size="29.3" fill="#777" stroke="#777" stroke-width="0.5" textLength="138" lengthAdjust="spacingAndGlyphs" font-family="Liberation Sans, sans-serif" style="word-spacing:-0.085em">Jan 4, 2021</text>
<text x="1751.6" y="1318.7" font-size="29.3" fill="#777" stroke="#777" stroke-width="0.5" textLength="157.4" lengthAdjust="spacingAndGlyphs" font-family="Liberation Sans, sans-serif" style="word-spacing:-0.085em">Sep 12, 2021</text>
<rect x="253" y="1305" width="1467" height="8" fill="#acb3c0"/>
<rect x="761" y="1303" width="959" height="12" fill="#2d70dc"/>
<defs><filter id="sh" x="-50%" y="-50%" width="200%" height="200%"><feDropShadow dx="0" dy="3" stdDeviation="2.2" flood-color="#000" flood-opacity="0.2"/></filter></defs>
<circle cx="760.8" cy="1309" r="13.9" fill="#fff" stroke="#2a6ede" stroke-width="3.2" filter="url(#sh)"/>
<circle cx="1719.6" cy="1309" r="13.9" fill="#fff" stroke="#2a6ede" stroke-width="3.2" filter="url(#sh)"/>
<rect x="320" y="1341" width="1620" height="1" fill="#d4d4d4"/>
</svg>
</body></html>
